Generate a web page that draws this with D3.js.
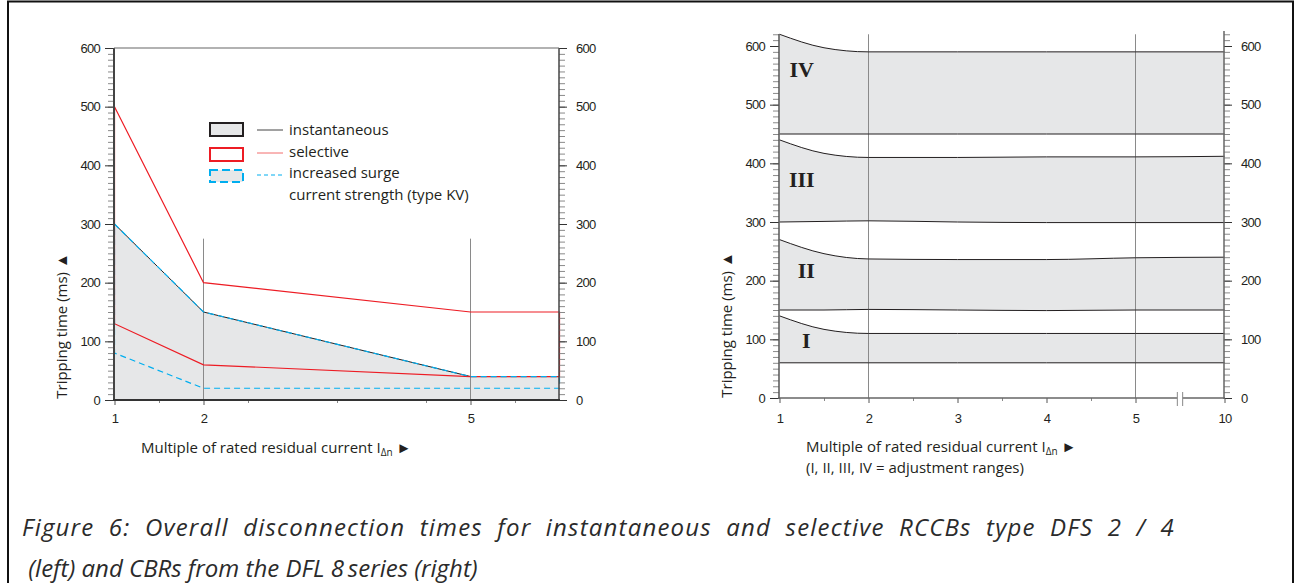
<!DOCTYPE html>
<html>
<head>
<meta charset="utf-8">
<script src="https://cdn.jsdelivr.net/npm/d3@7"></script>
<style>
  body { margin: 0; background: #fff; }
  svg { display: block; }
  .tick text { font-family: "Liberation Sans", Arial, sans-serif; font-size: 13px; fill: #231f20; letter-spacing: -0.7px; }
  .lbl { font-family: "Open Sans", sans-serif; fill: #231f20; }
</style>
</head>
<body>
<svg width="1298" height="583"></svg>
<script>
// left chart: RCCB tripping times
var xLeft = [1, 2, 5, 6];
var instantaneous = [300, 150, 40, 40];
var selectiveUpper = [500, 200, 150, 150];
var selectiveLower = [130, 60, 40, 40];
var kvUpper = [300, 150, 40, 40];
var kvLower = [80, 20, 20, 20];
var xLeftTicks = [1, 2, 5];
var legendLabels = ["instantaneous", "selective", "increased surge", "current strength (type KV)"];

// right chart: CBR adjustment ranges
var xRight = [1, 1.5, 2, 3, 4, 5, 6];
var xRightTicks = [1, 2, 3, 4, 5, 6];
var xRightLabels = ["1", "2", "3", "4", "5", "10"];
var bandNames = ["I", "II", "III", "IV"];
var bandLower = [
  [60, 60, 60, 60, 60, 60, 60],
  [150, 150, 151, 150, 149, 150, 150],
  [300, 301, 302, 300, 299, 299, 299],
  [450, 450, 450, 450, 450, 450, 450]
];
var bandUpper = [
  [140, 117, 110, 110, 110, 110, 110],
  [270, 246, 237, 236, 236, 239, 240],
  [440, 417, 410, 410, 411, 411, 412],
  [620, 597, 590, 590, 590, 590, 590]
];
var bandLabelPos = [[1.3, 85], [1.3, 205], [1.25, 360], [1.25, 548]];

var yTicksMajor = d3.range(0, 601, 100);
var yTicksMinor = d3.range(0, 601, 10);

var svg = d3.select('svg');
var ink = "#231f20", red = "#ed1c24", blue = "#00aeef", fillGray = "#e6e7e8";

// frame
svg.append("path")
  .attr("d", "M8,583 V1.5 H1293 V583")
  .style("fill", "none").style("stroke", "#111").style("stroke-width", 2);

var drawYAxes = function(y, xl, xr, extraTop) {
  var minorL = svg.append("g").attr("transform", "translate(" + xl + ",0)")
    .call(d3.axisLeft(y).tickValues(yTicksMinor.concat(extraTop)).tickSize(6).tickSizeOuter(0).tickFormat(""));
  var majorL = svg.append("g").attr("transform", "translate(" + xl + ",0)")
    .call(d3.axisLeft(y).tickValues(yTicksMajor).tickSize(9).tickSizeOuter(0).tickPadding(5));
  var minorR = svg.append("g").attr("transform", "translate(" + xr + ",0)")
    .call(d3.axisRight(y).tickValues(yTicksMinor.concat(extraTop)).tickSize(6).tickSizeOuter(0).tickFormat(""));
  var majorR = svg.append("g").attr("transform", "translate(" + xr + ",0)")
    .call(d3.axisRight(y).tickValues(yTicksMajor).tickSize(8).tickSizeOuter(0).tickPadding(9));
  [minorL, minorR].forEach(function(g) {
    g.select(".domain").remove();
    g.selectAll("line").style("stroke", "#8a8a8a");
  });
  [majorL, majorR].forEach(function(g) {
    g.select(".domain").remove();
    g.selectAll("line").style("stroke", "#333");
  });
};

// ---------- left chart ----------
var xL = d3.scaleLinear().domain([1, 6]).range([114.5, 559.5]);
var yL = d3.scaleLinear().domain([0, 600]).range([400, 48]);

var instArea = d3.area().x(function(d) { return xL(d[0]); }).y0(yL(0)).y1(function(d) { return yL(d[1]); });
var inst = xLeft.map(function(x, i) { return [x, instantaneous[i]]; });
svg.append("path").attr("d", instArea(inst)).style("fill", fillGray);

// grid lines at 2 and 5
[2, 5].forEach(function(v) {
  svg.append("line").attr("x1", xL(v)).attr("x2", xL(v)).attr("y1", yL(0)).attr("y2", yL(275))
    .style("stroke", "#8a8a8a").style("stroke-width", 1);
});

var ringLine = d3.line().x(function(d) { return xL(d[0]); }).y(function(d) { return yL(d[1]); }).curve(d3.curveLinearClosed);
var ring = function(up, lo) {
  var upper = xLeft.map(function(x, i) { return [x, up[i]]; });
  var lower = xLeft.map(function(x, i) { return [x, lo[i]]; }).reverse();
  return upper.concat(lower);
};

svg.append("path").attr("d", d3.line().x(function(d) { return xL(d[0]); }).y(function(d) { return yL(d[1]); })(inst))
  .style("fill", "none").style("stroke", ink).style("stroke-width", 1);
svg.append("path").attr("d", ringLine(ring(selectiveUpper, selectiveLower)))
  .style("fill", "none").style("stroke", red).style("stroke-width", 1.2);
svg.append("path").attr("d", ringLine(ring(kvUpper, kvLower)))
  .style("fill", "none").style("stroke", blue).style("stroke-width", 1.2).style("stroke-dasharray", "6,4");

drawYAxes(yL, 114, 559, []);
svg.append("line").attr("x1", 114).attr("x2", 114).attr("y1", 48).attr("y2", 401).style("stroke", "#444").style("stroke-width", 2);
svg.append("line").attr("x1", 559).attr("x2", 559).attr("y1", 48).attr("y2", 401).style("stroke", "#444").style("stroke-width", 1.5);
svg.append("line").attr("x1", 114).attr("x2", 559).attr("y1", 48).attr("y2", 48).style("stroke", "#666").style("stroke-width", 1.2);

var bl = svg.append("g").attr("transform", "translate(0,400)")
  .call(d3.axisBottom(xL).tickValues(xLeftTicks).tickSize(5).tickSizeOuter(0).tickPadding(9).tickFormat(d3.format("d")));
bl.select(".domain").remove();
bl.selectAll("line").style("stroke", "#555");
var blm = svg.append("g").attr("transform", "translate(0,400)")
  .call(d3.axisBottom(xL).tickValues([1.5, 2.5, 3.5, 4.5, 5.5]).tickSize(3).tickFormat(""));
blm.select(".domain").remove();
blm.selectAll("line").style("stroke", "#888");
svg.append("line").attr("x1", 113).attr("x2", 560).attr("y1", 400).attr("y2", 400).style("stroke", "#333").style("stroke-width", 2);

// legend
var lg = svg.append("g");
lg.append("rect").attr("x", 210).attr("y", 123).attr("width", 33).attr("height", 13)
  .style("fill", fillGray).style("stroke", ink).style("stroke-width", 2);
lg.append("rect").attr("x", 210).attr("y", 148).attr("width", 33).attr("height", 13)
  .style("fill", "#fff").style("stroke", red).style("stroke-width", 2);
lg.append("rect").attr("x", 210).attr("y", 170).attr("width", 33).attr("height", 12)
  .style("fill", fillGray).style("stroke", blue).style("stroke-width", 2).style("stroke-dasharray", "8,4");
[[130, "#444", null], [153, "#f26c6c", null], [175, blue, "4,3"]].forEach(function(s) {
  lg.append("line").attr("x1", 257).attr("x2", 283).attr("y1", s[0]).attr("y2", s[0])
    .style("stroke", s[1]).style("stroke-width", 1).style("stroke-dasharray", s[2]);
});
[135, 157, 178, 200].forEach(function(yy, i) {
  lg.append("text").attr("class", "lbl").attr("x", 289).attr("y", yy)
    .style("font-size", "15px").text(legendLabels[i]);
});

// axis titles
var ytitle = function(x, y) {
  svg.append("text").attr("class", "lbl").attr("transform", "translate(" + x + "," + y + ") rotate(-90)")
    .attr("text-anchor", "middle").style("font-size", "15px").text("Tripping time (ms) \u25B2");
};
var xtitle = function(x, y) {
  var t = svg.append("text").attr("class", "lbl").attr("x", x).attr("y", y).style("font-size", "15px");
  t.append("tspan").text("Multiple of rated residual current I");
  t.append("tspan").attr("dy", 3).style("font-size", "10px").text("\u0394n");
  t.append("tspan").attr("dy", -3).text(" \u25BA");
};
ytitle(67, 326);
xtitle(141, 453);

// ---------- right chart ----------
var xR = d3.scaleLinear().domain([1, 6]).range([779.5, 1224.5]);
var yR = d3.scaleLinear().domain([0, 600]).range([398, 46]);

var bandArea = d3.area().x(function(d) { return xR(d[0]); })
  .y0(function(d) { return yR(d[1]); }).y1(function(d) { return yR(d[2]); }).curve(d3.curveMonotoneX);
var bandLine = d3.line().x(function(d) { return xR(d[0]); }).y(function(d) { return yR(d[1]); }).curve(d3.curveMonotoneX);

bandNames.forEach(function(nm, b) {
  var pts = xRight.map(function(x, i) { return [x, bandLower[b][i], bandUpper[b][i]]; });
  svg.append("path").attr("d", bandArea(pts)).style("fill", fillGray);
});
[2, 5].forEach(function(v) {
  svg.append("line").attr("x1", xR(v)).attr("x2", xR(v)).attr("y1", yR(0)).attr("y2", yR(620))
    .style("stroke", "#8a8a8a").style("stroke-width", 1);
});
bandNames.forEach(function(nm, b) {
  var lo = xRight.map(function(x, i) { return [x, bandLower[b][i]]; });
  var up = xRight.map(function(x, i) { return [x, bandUpper[b][i]]; });
  [lo, up].forEach(function(p) {
    svg.append("path").attr("d", bandLine(p)).style("fill", "none").style("stroke", ink).style("stroke-width", 1);
  });
  svg.append("text").attr("x", xR(bandLabelPos[b][0])).attr("y", yR(bandLabelPos[b][1]))
    .attr("text-anchor", "middle")
    .style("font-family", "'Liberation Serif', serif").style("font-weight", "bold").style("font-size", "22px")
    .style("fill", ink).text(nm);
});

drawYAxes(yR, 779, 1224, [610, 620]);
svg.append("line").attr("x1", 779).attr("x2", 779).attr("y1", 34).attr("y2", 399).style("stroke", "#555").style("stroke-width", 1.5);
svg.append("line").attr("x1", 1224).attr("x2", 1224).attr("y1", 31).attr("y2", 399).style("stroke", "#666").style("stroke-width", 1.5);

var br = svg.append("g").attr("transform", "translate(0,398)")
  .call(d3.axisBottom(xR).tickValues(xRightTicks).tickSize(5).tickSizeOuter(0).tickPadding(11)
    .tickFormat(function(d, i) { return xRightLabels[i]; }));
br.select(".domain").remove();
br.selectAll("line").style("stroke", "#555");
var brm = svg.append("g").attr("transform", "translate(0,398)")
  .call(d3.axisBottom(xR).tickValues([1.5, 2.5, 3.5, 4.5]).tickSize(3).tickFormat(""));
brm.select(".domain").remove();
brm.selectAll("line").style("stroke", "#888");
svg.append("line").attr("x1", 778).attr("x2", xR(5.47)).attr("y1", 398).attr("y2", 398).style("stroke", "#666").style("stroke-width", 1.5);
svg.append("line").attr("x1", xR(5.53)).attr("x2", 1225).attr("y1", 398).attr("y2", 398).style("stroke", "#666").style("stroke-width", 1.5);
[5.47, 5.53].forEach(function(v) {
  svg.append("line").attr("x1", xR(v)).attr("x2", xR(v)).attr("y1", 392).attr("y2", 406).style("stroke", "#888").style("stroke-width", 1);
});

ytitle(732, 325);
xtitle(806, 452);
svg.append("text").attr("class", "lbl").attr("x", 806).attr("y", 473).style("font-size", "15px")
  .text("(I, II, III, IV = adjustment ranges)");

// caption: first line is justified, spread partly over letters and partly over word gaps
var cap = svg.append("g").attr("class", "lbl").style("font-style", "italic").style("font-size", "24px").style("fill", "#2b2b2b");
var line1 = "Figure 6: Overall disconnection times for instantaneous and selective RCCBs type DFS 2 / 4";
var c1 = cap.append("text").attr("x", 22).attr("y", 536).style("letter-spacing", "1.2px").text(line1);
var w1 = c1.node().getComputedTextLength();
var gaps = line1.split(" ").length - 1;
c1.style("word-spacing", Math.max(0, (1175 - 22 - w1) / gaps) + "px");
cap.append("text").attr("x", 22).attr("y", 577)
  .text("\u00A0(left) and CBRs from the DFL 8\u2009series (right)");
</script>
</body>
</html>
